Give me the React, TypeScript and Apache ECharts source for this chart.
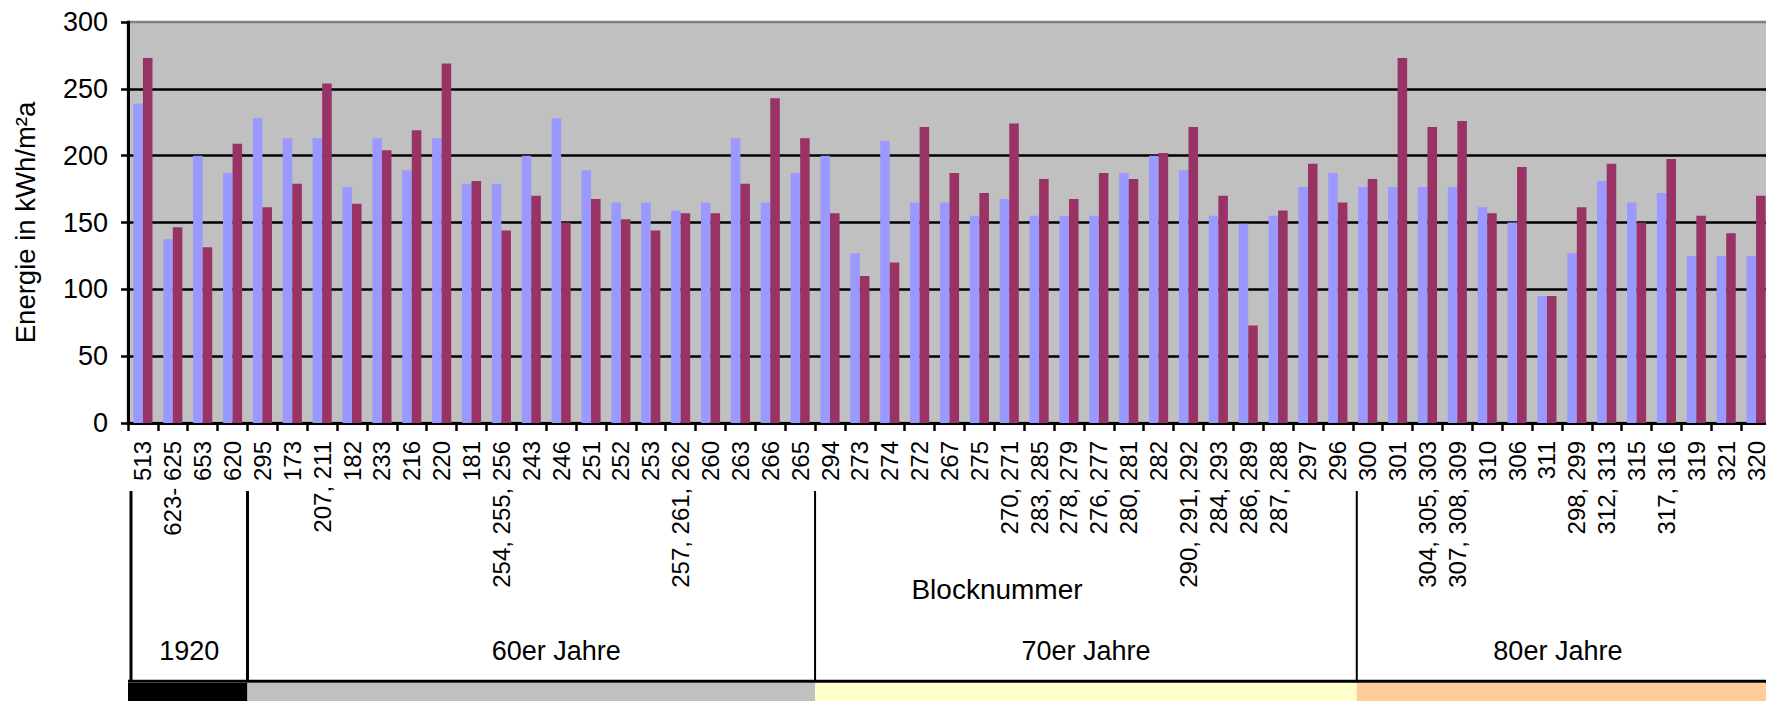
import React, { useEffect, useRef } from 'react';
import * as echarts from 'echarts';

const categories = [
  '513', '623- 625', '653', '620',
  '295', '173', '207, 211', '182', '233', '216', '220', '181', '254, 255, 256', '243', '246', '251', '252', '253', '257, 261, 262', '260', '263', '266', '265',
  '294', '273', '274', '272', '267', '275', '270, 271', '283, 285', '278, 279', '276, 277', '280, 281', '282', '290, 291, 292', '284, 293', '286, 289', '287, 288', '297', '296',
  '300', '301', '304, 305, 303', '307, 308, 309', '310', '306', '311', '298, 299', '312, 313', '315', '317, 316', '319', '321', '320',
];

const seriesBlue = [
  239, 137.5, 200, 187,
  228, 213, 213, 176.5, 213, 189, 213, 179, 179, 200, 228, 189, 165, 165, 159, 165, 213, 165, 187,
  200, 127, 211, 165, 165, 155, 167.5, 155, 155, 155, 187, 200, 189, 155, 149, 155, 176.5, 187,
  176.5, 176.5, 176.5, 176.5, 161.5, 150, 95, 127, 181, 165, 172, 125, 125, 125,
];

const seriesRed = [
  273, 146.5, 131.5, 209,
  161.5, 179, 254, 164, 204, 219, 269, 181, 144, 170, 150, 167.5, 152.5, 144, 157, 157, 179, 243, 213,
  157, 110, 120, 221.5, 187, 172, 224, 182.5, 167.5, 187, 182.5, 202, 221.5, 170, 73, 159, 194, 165,
  182.5, 273, 221.5, 226, 157, 191.5, 95, 161.5, 194, 150, 197.5, 155, 142, 170,
];

const yTicks = [0, 50, 100, 150, 200, 250, 300];

const groupNames = ['1920', '60er Jahre', '70er Jahre', '80er Jahre'];
const groupSizes = [4, 19, 18, 14];
const groupColors = ['#000000', '#C0C0C0', '#FFFFCC', '#FFCC99'];

const FONT = '"Liberation Sans", Arial, sans-serif';

export default function App() {
  const ref = useRef<HTMLDivElement>(null);

  useEffect(() => {
    if (!ref.current) return;
    const chart = echarts.init(ref.current, undefined, { renderer: 'svg' });
    const W = 1771;
    const H = 701;

    chart.setOption({
      animation: false,
      backgroundColor: '#ffffff',
      grid: {
        left: 128,
        right: 0,
        top: 22,
        bottom: 278,
        show: true,
        backgroundColor: '#C0C0C0',
        borderColor: '#808080',
        borderWidth: 2.5,
      },
      xAxis: {
        type: 'category',
        data: categories,
        boundaryGap: true,
        name: 'Blocknummer',
        nameLocation: 'middle',
        nameGap: 152,
        nameMoveOverlap: false,
        nameTextStyle: { fontFamily: FONT, fontSize: 28, color: '#000', padding: [0, 0, 0, 95] },
        axisLine: { show: true, lineStyle: { color: '#000', width: 3 } },
        axisTick: { show: true, alignWithLabel: false, length: 8, lineStyle: { color: '#000', width: 2.5 } },
        axisLabel: {
          interval: 0,
          rotate: 90,
          margin: 18,
          fontFamily: FONT,
          fontSize: 24,
          color: '#000',
        },
        splitLine: { show: false },
      },
      yAxis: {
        type: 'value',
        min: yTicks[0],
        max: yTicks[yTicks.length - 1],
        interval: 50,
        name: 'Energie in kWh/m²a',
        nameLocation: 'middle',
        nameRotate: 90,
        nameGap: 89,
        nameMoveOverlap: false,
        nameTextStyle: { fontFamily: FONT, fontSize: 27.5, color: '#000' },
        axisLine: { show: true, lineStyle: { color: '#000', width: 3 } },
        axisTick: { show: true, length: 7, lineStyle: { color: '#000', width: 2.5 } },
        axisLabel: { fontFamily: FONT, fontSize: 27, color: '#000', margin: 20 },
        splitLine: { show: true, showMaxLine: false, lineStyle: { color: '#000', width: 2.5 } },
      },
      series: [
        {
          name: 'Reihe 1',
          type: 'bar',
          data: seriesBlue,
          barGap: '0%',
          barCategoryGap: '36%',
          itemStyle: { color: '#9999FF' },
        },
        {
          name: 'Reihe 2',
          type: 'bar',
          data: seriesRed,
          barGap: '0%',
          barCategoryGap: '36%',
          itemStyle: { color: '#993366' },
        },
      ],
    });

    const c0 = chart.convertToPixel({ xAxisIndex: 0 }, 0) as number;
    const c1 = chart.convertToPixel({ xAxisIndex: 0 }, 1) as number;
    const step = c1 - c0;
    const bx = (k: number) => c0 + (k - 0.5) * step;
    const axisY = chart.convertToPixel({ yAxisIndex: 0 }, 0) as number;
    const lineTop = axisY + 68;
    const lineY = 681.3;
    const bandTop = 683;

    // small visual offsets of the table cells relative to the category boundaries
    const boundShift = [3, 0, 0, 4, 0];
    const labelShift = [0, 25, 0, -6];

    const bounds: number[] = [0];
    let acc = 0;
    groupSizes.forEach((n) => {
      acc += n;
      bounds.push(acc);
    });
    const edge = (i: number) => bx(bounds[i]) + boundShift[i];

    const elements: any[] = [];

    groupNames.forEach((name, i) => {
      const x0 = i === 0 ? bx(0) : edge(i);
      const x1 = i === groupNames.length - 1 ? W + 10 : edge(i + 1);
      elements.push({
        type: 'rect',
        shape: { x: x0, y: bandTop, width: x1 - x0, height: H - bandTop + 5 },
        style: { fill: groupColors[i] },
      });
      const cx = (edge(i) + edge(i + 1)) / 2 + labelShift[i];
      elements.push({
        type: 'text',
        x: cx,
        y: 651,
        style: {
          text: name,
          fontFamily: FONT,
          fontSize: 27,
          fill: '#000',
          align: 'center',
          verticalAlign: 'middle',
        },
      });
    });

    for (let i = 0; i < groupNames.length; i++) {
      const x = edge(i);
      elements.push({
        type: 'line',
        shape: { x1: x, y1: lineTop, x2: x, y2: lineY },
        style: { stroke: '#000', lineWidth: i < 2 ? 3 : 2 },
      });
    }

    elements.push({
      type: 'line',
      shape: { x1: bx(0), y1: lineY, x2: W + 10, y2: lineY },
      style: { stroke: '#000', lineWidth: 3 },
    });

    chart.setOption({ graphic: elements });

    return () => chart.dispose();
  }, []);

  return (
    <div style={{ position: 'fixed', left: 0, top: 0, width: 1766, height: 701, overflow: 'hidden', background: '#fff' }}>
      <div ref={ref} style={{ width: 1771, height: 701 }} />
    </div>
  );
}
